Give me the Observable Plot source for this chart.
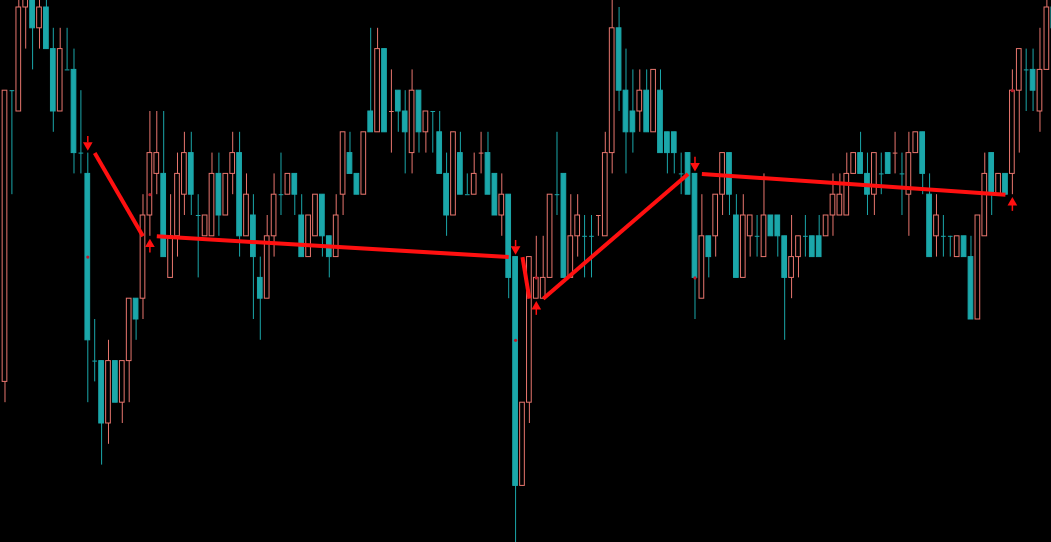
<!DOCTYPE html>
<html><head><meta charset="utf-8">
<script src="https://cdn.jsdelivr.net/npm/d3@7"></script>
<script src="https://cdn.jsdelivr.net/npm/@observablehq/plot@0.6"></script>
<style>html,body{margin:0;padding:0;background:#000;overflow:hidden}#chart{width:1051px;height:542px;overflow:hidden}</style>
</head><body><div id="chart"></div><script>
// OHLC values (price levels), one entry per bar
const open=[12,26,25,30,31,29,30,28,25,27, 27,23,22,13,13,10,13,11,13,16, 16,20,22,22,17,19,21,23,20,19, 19,22,20,22,23,19,20,17,16,19, 21,21,22,20,18,19,21,19,18,21, 23,22,21,25,24,28,25,26,25,23, 26,24,25,24,22,20,23,21,21,23, 23,22,20,21,18,7,11,16,16,17, 21,22,17,19,19,19,20,19,23,29, 26,25,25,26,24,26,24,24,22,23, 22,16,19,19,21,23,20,17,19,19, 18,20,20,19,17,18,19,19,19,19, 20,20,20,22,23,22,21,22,23,23, 22,21,23,24,21,19,19,19,18,19, 18,15,19,23,21,22,22,26,27,27, 25,27,30];
const close=[26,26,30,31,29,30,28,25,28,27, 23,23,14,13,10,13,11,13,16,15, 20,23,23,18,19,22,23,21,20,20, 22,20,22,23,19,21,18,16,19,21, 21,22,21,18,20,21,19,18,20,24, 22,21,24,24,28,24,25,25,24,26, 24,25,25,22,20,24,21,21,22,23, 21,20,21,17,7,11,18,17,17,21, 21,17,19,20,19,19,20,23,29,26, 24,24,26,24,27,23,23,23,22,21, 17,19,18,21,23,21,17,20,20,19, 20,19,19,17,18,19,19,18,18,20, 21,21,22,23,22,21,23,22,22,23, 22,23,24,22,18,20,19,19,19,18, 15,20,22,21,22,21,26,28,27,26, 27,30,29];
const high=[26,26,31,31,31,31,31,29,29,29, 28,26,23,15,13,14,13,13,16,16, 21,25,25,25,21,23,24,24,21,20, 23,23,22,24,24,22,21,18,20,22, 23,22,22,21,20,21,21,19,21,24, 24,22,24,29,29,28,27,26,26,27, 26,25,25,25,23,24,24,22,23,24, 24,22,22,21,18,11,18,19,19,21, 24,22,21,21,20,20,20,24,30.4,30, 28,27,27,27,27,27,24,24,23,23, 22,21,19,21,23,23,21,21,20,20, 22,20,20,19,20,19,20,19,20,20, 22,22,23,23,24,23,23,23,23,24, 23,24,24,24,22,21,20,19,19,19, 19,20,23,23,22,22,27,28,28,28, 29,30.5,30.5];
const low=[11,21,25,28,27,28,28,24,25,27, 22,22,11,12,8,9,11,10,11,14, 15,19,21,18,17,18,20,20,17,19, 19,19,20,21,18,19,15,14,16,18, 20,21,20,18,18,19,18,17,18,20, 22,21,21,24,24,24,23,24,22,22, 23,23,23,22,19,20,21,21,21,22, 21,20,19,16,3,7,10,16,16,17, 20,17,17,18,17,17,19,19,22,25, 22,23,24,24,24,23,22,22,21,21, 15,16,17,18,20,20,17,17,18,18, 18,19,18,14,16,17,18,18,18,19, 19,20,20,22,22,20,20,21,22,22, 20,19,23,21,18,18,18,18,18,18, 15,15,19,20,21,21,21,23,25,25, 24,27,28];
// doji bars drawn in the "up" colour
const bullDoji=[56,69,86,129];
// zigzag pivots
const pivotIdx=[12,21,74,77,100,146];
const pivotPrice=[23,19,18,16,22,21];
const pivotDir=["down","up","down","up","down","up"];
// small signal markers
const markIdx=[12,21,74,77,100,146];
const markPrice=[18,21,14,17,17,26];

const candles=open.map((o,i)=>({i,o,h:high[i],l:low[i],c:close[i],
  doji:close[i]===o, bull: close[i]>o || (close[i]===o && bullDoji.includes(i))}));
const segs=pivotIdx.slice(0,-1).map((p,k)=>({x1:p+1,y1:pivotPrice[k],x2:pivotIdx[k+1]-1,y2:pivotPrice[k+1]}));
const piv=pivotIdx.map((p,k)=>({i:p,price:pivotPrice[k],dir:pivotDir[k]}));
const marks=markIdx.map((p,k)=>({i:p,price:markPrice[k]}));

const TEAL="#1ba7aa", SALMON="#e8766e", RED="#ff1010";
const hw=0.34;
const bull=candles.filter(d=>d.bull), bear=candles.filter(d=>!d.bull);
const downTri={draw(ctx,size){const y=Math.sqrt(size/(3*Math.sqrt(3)));const s=Math.sqrt(3)*y;ctx.moveTo(0,2*y);ctx.lineTo(-s,-y);ctx.lineTo(s,-y);ctx.closePath();}};
const upTri={draw(ctx,size){const y=Math.sqrt(size/(3*Math.sqrt(3)));const s=Math.sqrt(3)*y;ctx.moveTo(0,-2*y);ctx.lineTo(-s,y);ctx.lineTo(s,y);ctx.closePath();}};

const chart=Plot.plot({
  width:1051,height:542,margin:0,
  x:{domain:[-0.652,151.67],axis:null},
  y:{domain:[4.279,30.3365],axis:null},
  style:{background:"#000",overflow:"hidden"},
  marks:[
    Plot.ruleX(bear,{x:"i",y1:"l",y2:"h",stroke:TEAL,strokeWidth:1,clip:true}),
    Plot.ruleX(bull,{x:"i",y1:"l",y2:"h",stroke:SALMON,strokeWidth:1,clip:true}),
    Plot.rect(bear.filter(d=>!d.doji),{x1:d=>d.i-hw,x2:d=>d.i+hw,y1:"o",y2:"c",fill:TEAL,stroke:TEAL,strokeWidth:1,clip:true}),
    Plot.rect(bull.filter(d=>!d.doji),{x1:d=>d.i-hw,x2:d=>d.i+hw,y1:"o",y2:"c",fill:"#000",stroke:SALMON,strokeWidth:1,clip:true}),
    Plot.link(bear.filter(d=>d.doji),{x1:d=>d.i-hw,x2:d=>d.i+hw,y1:"o",y2:"o",stroke:TEAL,strokeWidth:1,clip:true}),
    Plot.link(bull.filter(d=>d.doji),{x1:d=>d.i-hw,x2:d=>d.i+hw,y1:"o",y2:"o",stroke:SALMON,strokeWidth:1,clip:true}),
    Plot.dot(marks,{x:"i",y:"price",r:1.6,fill:"#c01828",clip:true}),
    Plot.link(segs,{x1:"x1",y1:"y1",x2:"x2",y2:"y2",stroke:RED,strokeWidth:4,clip:true}),
    Plot.ruleX(piv,{x:"i",y1:d=>d.dir==="down"?d.price+0.5:d.price-0.5,y2:d=>d.dir==="down"?d.price+0.8:d.price-0.8,stroke:RED,strokeWidth:1.5}),
    Plot.dot(piv.filter(d=>d.dir==="down"),{x:"i",y:"price",dy:-8,r:3.6,symbol:downTri,fill:RED,stroke:"none"}),
    Plot.dot(piv.filter(d=>d.dir==="up"),{x:"i",y:"price",dy:8,r:3.6,symbol:upTri,fill:RED,stroke:"none"})
  ]
});
document.getElementById("chart").appendChild(chart);
</script></body></html>
